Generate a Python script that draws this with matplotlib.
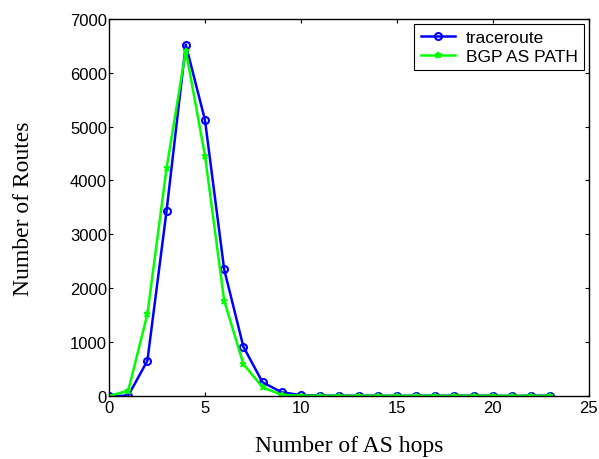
import matplotlib
matplotlib.use('Agg')
import matplotlib.pyplot as plt

hops = list(range(0, 24))
traceroute = [0, 5, 655, 3440, 6520, 5120, 2350, 915, 254, 69, 15, 8, 6, 6, 6, 0, 6, 6, 6, 6, 6, 0, 6, 6]
bgp_path = [0, 98, 1520, 4230, 6410, 4460, 1770, 594, 161, 20, 6, 4, 4, 4, 4, 2, 4, 4, 4, 4, 4, 2, 4, 4]

plt.rcParams['font.family'] = ['Liberation Sans', 'DejaVu Sans']

fig = plt.figure(figsize=(5.99, 4.60), dpi=100)
ax = fig.add_axes([0.182, 0.137, 0.801, 0.820])

ax.plot(hops, traceroute, color='#0000ff', linewidth=1.8, marker='o',
        markersize=5, markerfacecolor='none', markeredgewidth=1.5, label='traceroute')
ax.plot(hops, bgp_path, color='#00ff00', linewidth=1.8, marker='*',
        markersize=5, markeredgewidth=1.2, label='BGP AS PATH')

ax.set_xlim(0, 25)
ax.set_ylim(0, 7000)
ax.set_xticks(range(0, 26, 5))
ax.set_yticks(range(0, 7001, 1000))
ax.tick_params(direction='in', top=True, right=True, labelsize=12, length=3)
ax.tick_params(axis='y', pad=1.5)
ax.tick_params(axis='x', pad=3)
for s in ax.spines.values():
    s.set_linewidth(1.0)

ax.set_xlabel('Number of AS hops', family='Liberation Serif', fontsize=17, labelpad=14)
ax.set_ylabel('Number of Routes', family='Liberation Serif', fontsize=17, labelpad=26)

leg = ax.legend(loc='upper right', fontsize=12.5, fancybox=False, edgecolor='black',
                framealpha=1, borderaxespad=0.3, handlelength=2.0, borderpad=0.35,
                labelspacing=0.2, handletextpad=0.6)
leg.get_frame().set_linewidth(0.8)

fig.savefig('out.png', dpi=100)
